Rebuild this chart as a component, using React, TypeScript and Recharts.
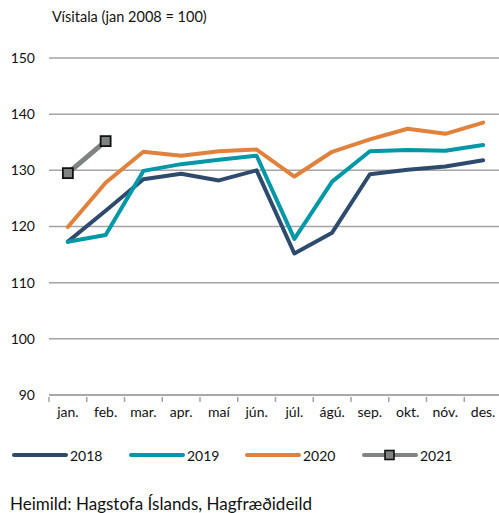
import React from 'react';
import { LineChart, Line, XAxis, YAxis, CartesianGrid } from 'recharts';

const months = ['jan.', 'feb.', 'mar.', 'apr.', 'maí', 'jún.', 'júl.', 'ágú.', 'sep.', 'okt.', 'nóv.', 'des.'];
const y2018 = [117.3, 122.8, 128.4, 129.4, 128.2, 130.0, 115.2, 118.9, 129.3, 130.1, 130.7, 131.8];
const y2019 = [117.3, 118.5, 129.9, 131.1, 131.9, 132.6, 117.8, 128.0, 133.4, 133.6, 133.5, 134.5];
const y2020 = [119.9, 127.8, 133.3, 132.6, 133.4, 133.7, 128.9, 133.3, 135.5, 137.4, 136.5, 138.5];
const y2021 = [129.5, 135.2];
const yTicks = [90, 100, 110, 120, 130, 140, 150];

const colors = { a: '#2E4B6D', b: '#0097A7', c: '#E0813C', d: '#7F8382' };
const font = 'Lato, "Open Sans", sans-serif';
const band = 453 / 12;

const data = months.map((m, i) => ({
  month: m,
  a: y2018[i],
  b: y2019[i],
  c: y2020[i],
  d: i < y2021.length ? y2021[i] : null,
}));

const SquareDot = (props: any) => {
  const { cx, cy } = props;
  if (cx == null || cy == null) return null;
  return <rect x={cx - 5} y={cy - 5} width={10} height={10} fill="#7F8382" stroke="#111" strokeWidth={1.8} />;
};

// month label plus tick marks on the band edges
const MonthTick = (props: any) => {
  const { x, y, payload, index } = props;
  const left = x - band / 2;
  return (
    <g>
      <line x1={left} y1={y} x2={left} y2={y + 5} stroke="#A3A3A3" strokeWidth={1.5} />
      {index === months.length - 1 && (
        <line x1={x + band / 2} y1={y} x2={x + band / 2} y2={y + 5} stroke="#A3A3A3" strokeWidth={1.5} />
      )}
      <text x={x} y={y + 10} dy="0.71em" textAnchor="middle" fill="#111" fontSize={14} fontFamily={font}>
        {payload.value}
      </text>
    </g>
  );
};

const legendItems = [
  { label: '2018', color: colors.a, left: 12 },
  { label: '2019', color: colors.b, left: 129 },
  { label: '2020', color: colors.c, left: 245 },
  { label: '2021', color: colors.d, left: 362, marker: true },
];

export default function App() {
  return (
    <div style={{ position: 'absolute', left: 0, top: 0, width: 499, height: 513, overflow: 'hidden', background: '#fff', fontFamily: font }}>
      <div style={{ position: 'absolute', left: 52, top: 8, fontSize: 14.5, color: '#111' }}>Vísitala (jan 2008 = 100)</div>
      <div style={{ position: 'absolute', left: 0, top: 0 }}>
        <LineChart width={502} height={420} data={data} margin={{ top: 58, right: 0, bottom: 0, left: 0 }}>
          <CartesianGrid horizontal vertical={false} stroke="#A3A3A3" strokeWidth={1.5} />
          <YAxis
            domain={[90, 150]}
            ticks={yTicks}
            width={49}
            axisLine={false}
            tickLine={false}
            tickSize={0}
            tickMargin={14}
            tick={{ fill: '#111', fontSize: 14, fontFamily: font }}
          />
          <XAxis
            dataKey="month"
            height={25}
            padding={{ left: band / 2, right: band / 2 }}
            axisLine={{ stroke: '#A3A3A3', strokeWidth: 1.5 }}
            tickLine={false}
            tickSize={0}
            interval={0}
            tick={<MonthTick />}
          />
          <Line dataKey="a" stroke={colors.a} strokeWidth={4} dot={false} strokeLinecap="round" strokeLinejoin="round" isAnimationActive={false} />
          <Line dataKey="b" stroke={colors.b} strokeWidth={4} dot={false} strokeLinecap="round" strokeLinejoin="round" isAnimationActive={false} />
          <Line dataKey="c" stroke={colors.c} strokeWidth={4} dot={false} strokeLinecap="round" strokeLinejoin="round" isAnimationActive={false} />
          <Line dataKey="d" stroke={colors.d} strokeWidth={5} dot={<SquareDot />} strokeLinecap="round" isAnimationActive={false} />
        </LineChart>
      </div>
      {legendItems.map((it) => (
        <div key={it.label} style={{ position: 'absolute', left: it.left, top: 446, height: 18, display: 'flex', alignItems: 'center' }}>
          <svg width={56} height={14}>
            <line x1={2} y1={7} x2={54} y2={7} stroke={it.color} strokeWidth={4} strokeLinecap="round" />
            {it.marker && <rect x={23} y={2.5} width={9} height={9} fill={it.color} stroke="#111" strokeWidth={1.6} />}
          </svg>
          <span style={{ fontSize: 14, color: '#111', marginLeft: 2 }}>{it.label}</span>
        </div>
      ))}
      <div style={{ position: 'absolute', left: 10, top: 493, fontSize: 17, color: '#111' }}>Heimild: Hagstofa Íslands, Hagfræðideild</div>
    </div>
  );
}
